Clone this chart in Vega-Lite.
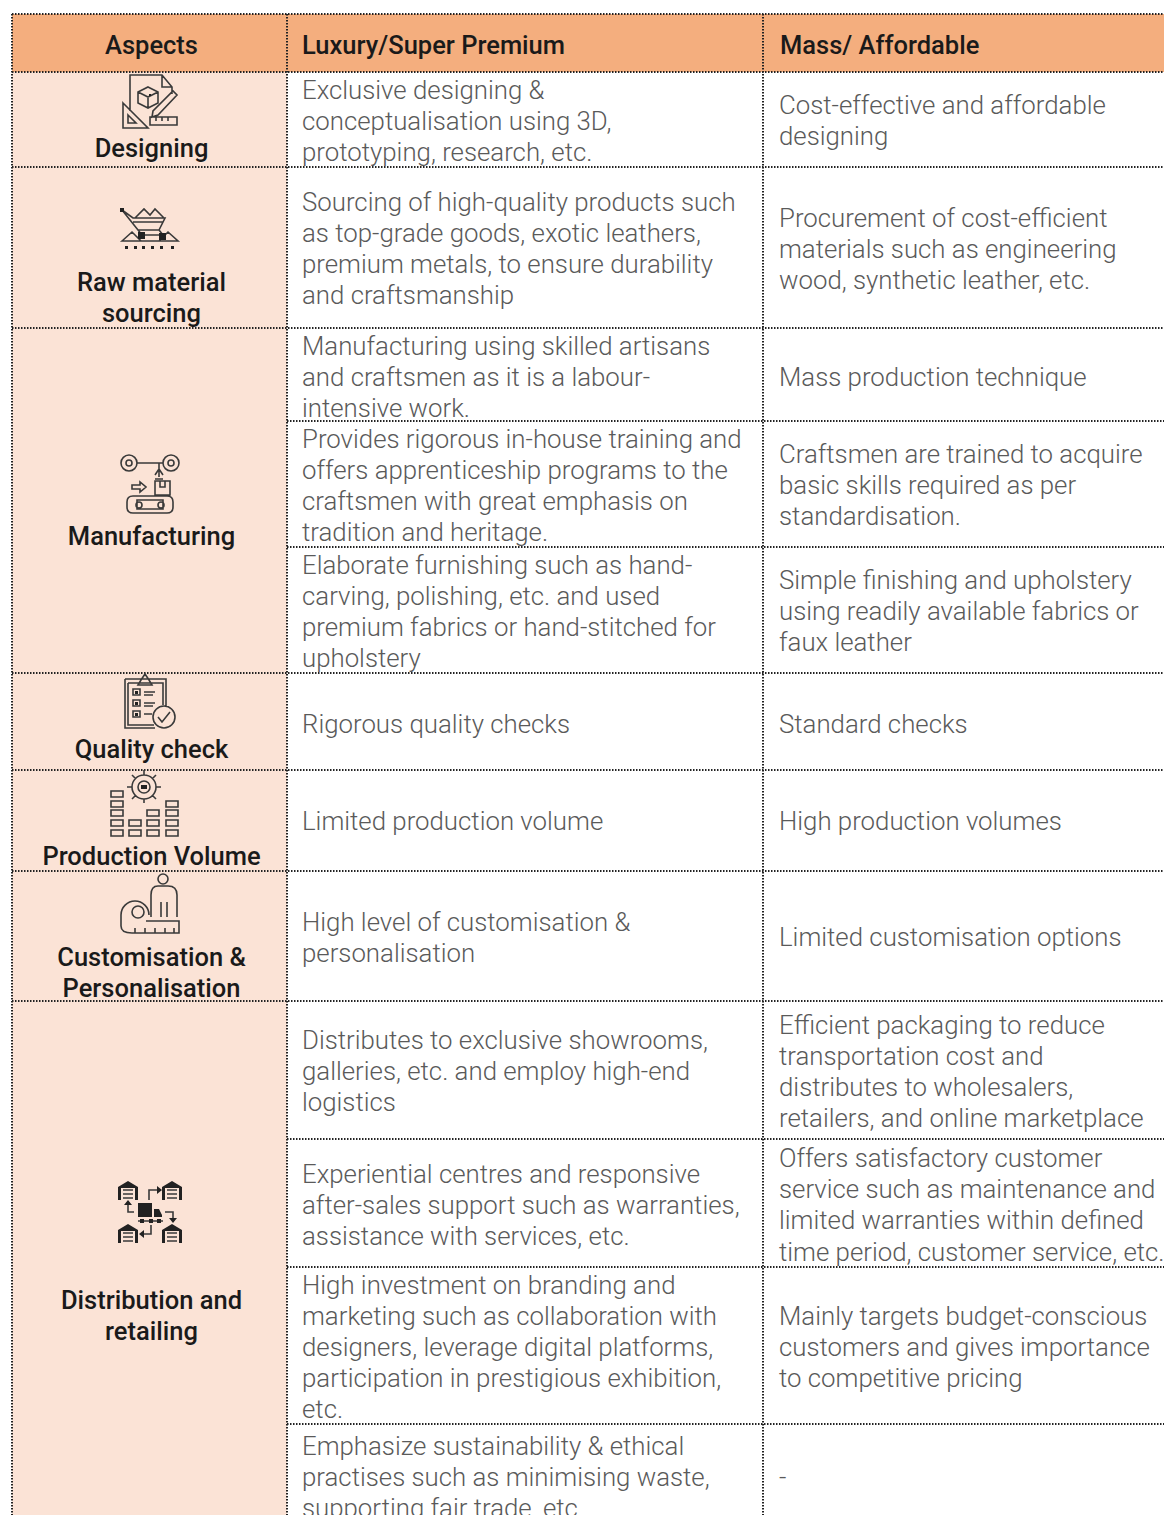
{
"$schema":"https://vega.github.io/schema/vega-lite/v6.json",
"width":1164,"height":1515,"padding":0,"autosize":{"type":"none"},
"background":"white",
"config":{"view":{"stroke":null}},
"resolve":{"scale":{"shape":"independent"}},
"datasets":{
"cells":[
{"kind":"header","left":12,"right":1164,"top":14,"bottom":72},
{"kind":"aspect","left":12,"right":287,"top":72,"bottom":1515}
],
"hlines":[
{"left":12,"right":1164,"pos":14},{"left":12,"right":1164,"pos":72},{"left":12,"right":1164,"pos":167},{"left":12,"right":1164,"pos":328},
{"left":287,"right":1164,"pos":421},{"left":287,"right":1164,"pos":547},{"left":12,"right":1164,"pos":673},{"left":12,"right":1164,"pos":770},
{"left":12,"right":1164,"pos":871},{"left":12,"right":1164,"pos":1001},{"left":287,"right":1164,"pos":1139},{"left":287,"right":1164,"pos":1267},{"left":287,"right":1164,"pos":1424}
],
"vlines":[{"pos":12,"top":14,"bottom":1515},{"pos":287,"top":14,"bottom":1515},{"pos":763,"top":14,"bottom":1515}],
"heads":[
{"t":"Luxury/Super Premium","col":302,"line":45},{"t":"Mass/ Affordable","col":780,"line":45}
],
"aspects":[
{"t":"Aspects","col":151.5,"line":45},
{"t":"Designing","col":151.5,"line":148},{"t":"Raw material","col":151.5,"line":282},{"t":"sourcing","col":151.5,"line":313},{"t":"Manufacturing","col":151.5,"line":536},{"t":"Quality check","col":151.5,"line":749},{"t":"Production Volume","col":151.5,"line":856},{"t":"Customisation &","col":151.5,"line":957},{"t":"Personalisation","col":151.5,"line":988},{"t":"Distribution and","col":151.5,"line":1300},{"t":"retailing","col":151.5,"line":1331}
],
"body":[
{"t":"Exclusive designing &","col":302,"line":90},{"t":"conceptualisation using 3D,","col":302,"line":121},{"t":"prototyping, research, etc.","col":302,"line":152},
{"t":"Cost-effective and affordable","col":779,"line":105},{"t":"designing","col":779,"line":136},
{"t":"Sourcing of high-quality products such","col":302,"line":202},{"t":"as top-grade goods, exotic leathers,","col":302,"line":233},{"t":"premium metals, to ensure durability","col":302,"line":264},{"t":"and craftsmanship","col":302,"line":295},
{"t":"Procurement of cost-efficient","col":779,"line":218},{"t":"materials such as engineering","col":779,"line":249},{"t":"wood, synthetic leather, etc.","col":779,"line":280},
{"t":"Manufacturing using skilled artisans","col":302,"line":346},{"t":"and craftsmen as it is a labour-","col":302,"line":377},{"t":"intensive work.","col":302,"line":408},
{"t":"Mass production technique","col":779,"line":377},
{"t":"Provides rigorous in-house training and","col":302,"line":439},{"t":"offers apprenticeship programs to the","col":302,"line":470},{"t":"craftsmen with great emphasis on","col":302,"line":501},{"t":"tradition and heritage.","col":302,"line":532},
{"t":"Craftsmen are trained to acquire","col":779,"line":454},{"t":"basic skills required as per","col":779,"line":485},{"t":"standardisation.","col":779,"line":516},
{"t":"Elaborate furnishing such as hand-","col":302,"line":565},{"t":"carving, polishing, etc. and used","col":302,"line":596},{"t":"premium fabrics or hand-stitched for","col":302,"line":627},{"t":"upholstery","col":302,"line":658},
{"t":"Simple finishing and upholstery","col":779,"line":580},{"t":"using readily available fabrics or","col":779,"line":611},{"t":"faux leather","col":779,"line":642},
{"t":"Rigorous quality checks","col":302,"line":724},{"t":"Standard checks","col":779,"line":724},
{"t":"Limited production volume","col":302,"line":821},{"t":"High production volumes","col":779,"line":821},
{"t":"High level of customisation &","col":302,"line":922},{"t":"personalisation","col":302,"line":953},{"t":"Limited customisation options","col":779,"line":937},
{"t":"Distributes to exclusive showrooms,","col":302,"line":1040},{"t":"galleries, etc. and employ high-end","col":302,"line":1071},{"t":"logistics","col":302,"line":1102},
{"t":"Efficient packaging to reduce","col":779,"line":1025},{"t":"transportation cost and","col":779,"line":1056},{"t":"distributes to wholesalers,","col":779,"line":1087},{"t":"retailers, and online marketplace","col":779,"line":1118},
{"t":"Experiential centres and responsive","col":302,"line":1174},{"t":"after-sales support such as warranties,","col":302,"line":1205},{"t":"assistance with services, etc.","col":302,"line":1236},
{"t":"Offers satisfactory customer","col":779,"line":1158},{"t":"service such as maintenance and","col":779,"line":1189},{"t":"limited warranties within defined","col":779,"line":1220},{"t":"time period, customer service, etc.","col":779,"line":1252},
{"t":"High investment on branding and","col":302,"line":1285},{"t":"marketing such as collaboration with","col":302,"line":1316},{"t":"designers, leverage digital platforms,","col":302,"line":1347},{"t":"participation in prestigious exhibition,","col":302,"line":1378},{"t":"etc.","col":302,"line":1409},
{"t":"Mainly targets budget-conscious","col":779,"line":1316},{"t":"customers and gives importance","col":779,"line":1347},{"t":"to competitive pricing","col":779,"line":1378},
{"t":"Emphasize sustainability & ethical","col":302,"line":1446},{"t":"practises such as minimising waste,","col":302,"line":1477},{"t":"supporting fair trade, etc.","col":302,"line":1508},
{"t":"-","col":779,"line":1477}
],
"icons":[
{"icon":"designing","col":150,"line":102},{"icon":"raw","col":150,"line":230},{"icon":"manufacturing","col":150,"line":485},{"icon":"quality","col":150,"line":702},{"icon":"production","col":144,"line":803},{"icon":"custom","col":150,"line":904},{"icon":"distribution","col":150,"line":1212}
]
},
"layer":[
{"data":{"name":"cells"},"mark":{"type":"rect"},
 "encoding":{
  "x":{"field":"left","type":"quantitative","scale":{"domain":[0,1164],"nice":false,"zero":false},"axis":null},
  "x2":{"field":"right"},
  "y":{"field":"top","type":"quantitative","scale":{"domain":[1515,0],"nice":false,"zero":false},"axis":null},
  "y2":{"field":"bottom"},
  "color":{"field":"kind","type":"nominal","scale":{"domain":["header","aspect"],"range":["#F4AE7E","#FBE3D6"]},"legend":null}
 }},
{"data":{"name":"hlines"},"mark":{"type":"rule","color":"#222222","strokeWidth":2,"strokeDash":[1.5,1.5]},
 "encoding":{"x":{"field":"left","type":"quantitative"},"x2":{"field":"right"},"y":{"field":"pos","type":"quantitative"}}},
{"data":{"name":"vlines"},"mark":{"type":"rule","color":"#222222","strokeWidth":2,"strokeDash":[1.5,1.5]},
 "encoding":{"x":{"field":"pos","type":"quantitative"},"y":{"field":"top","type":"quantitative"},"y2":{"field":"bottom"}}},
{"data":{"name":"heads"},"mark":{"type":"text","font":"Roboto","fontSize":25.5,"fontWeight":500,"color":"#1a1a1a","baseline":"middle","align":"left","dy":0.7},
 "encoding":{"x":{"field":"col","type":"quantitative"},"y":{"field":"line","type":"quantitative"},"text":{"field":"t"}}},
{"data":{"name":"aspects"},"mark":{"type":"text","font":"Roboto","fontSize":25.5,"fontWeight":500,"color":"#1a1a1a","baseline":"middle","align":"center","dy":0.7},
 "encoding":{"x":{"field":"col","type":"quantitative"},"y":{"field":"line","type":"quantitative"},"text":{"field":"t"}}},
{"data":{"name":"body"},"mark":{"type":"text","font":"Roboto","fontSize":25.8,"fontWeight":300,"color":"#5a5a5a","baseline":"middle","align":"left","dy":1},
 "encoding":{"x":{"field":"col","type":"quantitative"},"y":{"field":"line","type":"quantitative"},"text":{"field":"t"}}},
{"data":{"name":"icons"},"mark":{"type":"point","filled":false,"size":4,"opacity":1,"fill":null,"stroke":"#3a3a3a","strokeWidth":1.6},
 "encoding":{"x":{"field":"col","type":"quantitative"},"y":{"field":"line","type":"quantitative"},
 "shape":{"field":"icon","type":"nominal","legend":null,"scale":{"domain":["designing","raw","manufacturing","quality","production","custom","distribution"],"range":[
 "M-20,9 L-20,-27 L12,-27 L22,-15 L22,-8 M12,-27 L12,-15 L22,-15 M-2,-15 L8,-10 L8,1 L-2,6 L-12,1 L-12,-10 Z M-12,-10 L-2,-5 L8,-10 M-2,-5 L-2,6 M-27,1 L-2,26 L-27,26 Z M-22,13 L-14,21 L-22,21 Z M0,15 L27,15 L27,23 L0,23 Z M6,15 L6,19 M12,15 L12,19 M18,15 L18,19 M2,15 L3,9 L23,-11 L27,-7 L8,13 Z",
 "M-28,-20 L-17,-12 L15,-12 L9,0 L-12,0 Z M-15,-12 L-6,-21 L0,-15 L5,-21 L14,-12 M-28,11 L-18,2 L-9,11 Z M9,11 L18,2 L28,11 Z M-28,11 L28,11 M-12,0 L-8,5 L13,5 L9,0 M-17,-8 L13,-8",
 "M-29,-22 A8,8 0 1,1 -13,-22 A8,8 0 1,1 -29,-22 Z M-24,-22 A3,3 0 1,1 -18,-22 A3,3 0 1,1 -24,-22 Z M13,-22 A8,8 0 1,1 29,-22 A8,8 0 1,1 13,-22 Z M18,-22 A3,3 0 1,1 24,-22 A3,3 0 1,1 18,-22 Z M-13,-22 L13,-22 M9,-22 L9,-8 M5,-10 L9,-16 L13,-10 M5,-6 L13,-6 M5,-4 L20,-4 L20,10 L5,10 Z M10,-4 L10,2 L15,2 L15,-4 M-17,11 L17,11 Q23,11 23,17 L23,22 Q23,28 17,28 L-17,28 Q-23,28 -23,22 L-23,17 Q-23,11 -17,11 Z M-13,15 L13,15 L13,24 L-13,24 Z M-14,20 A3,3 0 1,1 -8,20 A3,3 0 1,1 -14,20 Z M8,20 A3,3 0 1,1 14,20 A3,3 0 1,1 8,20 Z M-18,0 L-10,0 L-10,-3 L-4,2 L-10,7 L-10,4 L-18,4 Z",
 "M-25,-23 L16,-23 L16,4 M5,26 L-25,26 L-25,-23 M-22,-19 L13,-19 L13,3 M4,23 L-22,23 L-22,-19 M-12,-17 L-9,-22 L-5,-28 L-1,-22 L2,-17 Z M3,15 A11,11 0 1,1 25,15 A11,11 0 1,1 3,15 Z M8,15 L12,20 L20,10 M-6,-10 L5,-10 M-6,-7 L3,-7 M-6,1 L5,1 M-6,4 L3,4 M-6,12 L2,12 M-17,-13 L-10,-13 L-10,-7 L-17,-7 Z M-17,-2 L-10,-2 L-10,4 L-17,4 Z M-17,9 L-10,9 L-10,15 L-17,15 Z",
 "M-12,-16 A12,12 0 1,1 12,-16 A12,12 0 1,1 -12,-16 Z M-6,-16 A6,6 0 1,1 6,-16 A6,6 0 1,1 -6,-16 Z M0,-33 L0,-28 M-17,-16 L-12,-16 M12,-16 L17,-16 M12,-28 L8,-24 M-12,-28 L-8,-24 M12,-4 L8,-8 M-12,-4 L-8,-8 M0,-4 L0,0 M-33,27 L-21,27 L-21,33 L-33,33 Z M-33,17 L-21,17 L-21,23 L-33,23 Z M-33,7 L-21,7 L-21,13 L-33,13 Z M-33,-2 L-21,-2 L-21,4 L-33,4 Z M-33,-12 L-21,-12 L-21,-6 L-33,-6 Z M-15,27 L-3,27 L-3,33 L-15,33 Z M-15,17 L-3,17 L-3,23 L-15,23 Z M3,27 L15,27 L15,33 L3,33 Z M3,17 L15,17 L15,23 L3,23 Z M3,7 L15,7 L15,13 L3,13 Z M22,27 L34,27 L34,33 L22,33 Z M22,17 L34,17 L34,23 L22,23 Z M22,7 L34,7 L34,13 L22,13 Z M22,-2 L34,-2 L34,4 L22,4 Z",
 "M8,-25 A5,5 0 1,1 18,-25 A5,5 0 1,1 8,-25 Z M1,13 L1,-9 Q1,-18 8,-18 L18,-18 Q27,-18 27,-9 L27,13 M11,13 L11,-2 M17,13 L17,-2 M-29,11 A14,14 0 0,1 -1,11 M-18,8 A6,6 0 1,1 -6,8 A6,6 0 1,1 -18,8 Z M-29,11 L-29,22 Q-29,29 -18,29 L29,29 L29,17 L-4,17 M-15,29 L-15,24 M-5,29 L-5,24 M5,29 L5,24 M15,29 L15,24 M24,29 L24,24",
 "M-27,-22 L-17,-22 M-27,-18 L-17,-18 M-27,-14 L-17,-14 M17,-22 L27,-22 M17,-18 L27,-18 M17,-14 L27,-14 M-27,21 L-17,21 M-27,25 L-17,25 M-27,29 L-17,29 M17,21 L27,21 M17,25 L27,25 M17,29 L27,29 M-16,0 L-22,0 L-22,-7 M-1,-12 L-1,-22 L7,-22 M15,0 L23,0 L23,6 M1,13 L1,22 L-6,22 M-12,9 L13,9"
 ]}}}},
{"data":{"name":"icons"},"mark":{"type":"point","filled":true,"size":4,"opacity":1,"fill":"#222222","stroke":null},
 "encoding":{"x":{"field":"col","type":"quantitative"},"y":{"field":"line","type":"quantitative"},
 "shape":{"field":"icon","type":"nominal","legend":null,"scale":{"domain":["designing","raw","manufacturing","quality","production","custom","distribution"],"range":[
 "M-1,-8 L1,-8 L1,-6 L-1,-6 Z",
 "M-12,2 L-5,2 L-5,9 L-12,9 Z M9,3 L16,3 L16,10 L9,10 Z M-30,-22 L-26,-22 L-26,-18 L-30,-18 Z M-25,16 L-22,16 L-22,19 L-25,19 Z M-16,16 L-13,16 L-13,19 L-16,19 Z M-8,16 L-5,16 L-5,19 L-8,19 Z M1,16 L4,16 L4,19 L1,19 Z M10,16 L13,16 L13,19 L10,19 Z M21,16 L24,16 L24,19 L21,19 Z",
 "M9,-1 L9,1 L9,1 Z",
 "M-15,-11 L-12,-11 L-12,-8 L-15,-8 Z M-15,0 L-12,0 L-12,3 L-15,3 Z M-15,11 L-12,11 L-12,14 L-15,14 Z",
 "M-3,-18 L3,-18 L3,-14 L-3,-14 Z",
 "M13,0 L13,0 L13,0 Z",
 "M-32,-12 L-32,-25 L-22,-31 L-12,-25 L-12,-12 L-15,-12 L-15,-24 L-29,-24 L-29,-12 Z M12,-12 L12,-25 L22,-31 L32,-25 L32,-12 L29,-12 L29,-24 L15,-24 L15,-12 Z M-32,31 L-32,18 L-22,12 L-12,18 L-12,31 L-15,31 L-15,19 L-29,19 L-29,31 Z M12,31 L12,18 L22,12 L32,18 L32,31 L29,31 L29,19 L15,19 L15,31 Z M-12,-9 L2,-9 L2,5 L-12,5 Z M4,-3 L9,-3 L12,3 L12,5 L4,5 Z M-10,7 L-6,7 L-6,11 L-10,11 Z M-1,7 L3,7 L3,11 L-1,11 Z M7,7 L11,7 L11,11 L7,11 Z M-26,-7 L-22,-12 L-18,-7 Z M7,-26 L12,-22 L7,-18 Z M19,6 L27,6 L23,11 Z M-6,18 L-11,22 L-6,26 Z"
 ]}}}}
]
}
